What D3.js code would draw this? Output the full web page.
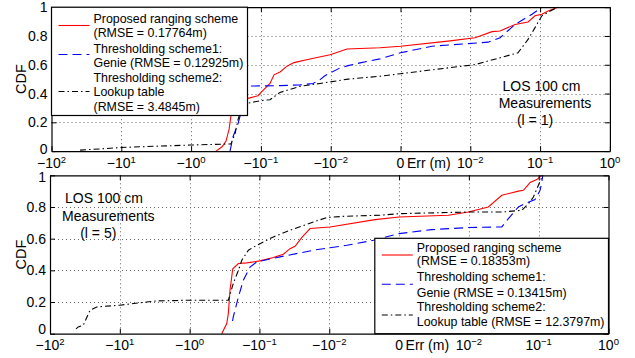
<!DOCTYPE html>
<html>
<head>
<meta charset="utf-8">
<script src="https://cdn.jsdelivr.net/npm/d3@7"></script>
<style>
  html, body { margin: 0; padding: 0; background: #fff; }
  svg { display: block; font-family: "Liberation Sans", Arial, Helvetica, sans-serif; }
</style>
</head>
<body>
<svg id="chart" width="635" height="358"></svg>
<script>
// Error axis ticks (metres), drawn on a signed-log axis
const xTickVals = [-100, -10, -1, -0.1, -0.01, 0, 0.01, 0.1, 1];
const xTickExps = ["2", "1", "0", "\u22121", "\u22122", null, "\u22122", "\u22121", "0"];
const yTickVals = [0, 0.2, 0.4, 0.6, 0.8, 1];

// Series: [ranging error (m), CDF] — LOS 100 cm, l = 1
const l1Proposed = [[-0.44,0],[-0.36,0.03],[-0.316,0.07],[-0.286,0.15],[-0.268,0.25],[-0.243,0.33],[-0.199,0.355],[-0.143,0.37],[-0.110,0.385],[-0.0964,0.415],[-0.0741,0.47],[-0.0649,0.53],[-0.0532,0.55],[-0.0423,0.59],[-0.0336,0.615],[-0.0198,0.64],[-0.0102,0.67],[-0.00583,0.71],[-0.00197,0.718],[0.001,0.729],[0.0048,0.764],[0.0117,0.788],[0.0205,0.83],[0.0267,0.835],[0.0437,0.88],[0.0672,0.897],[0.0845,0.94],[0.106,0.951],[0.130,0.974],[0.180,1]];
const l1Genie = [[-0.277,0],[-0.251,0.1],[-0.213,0.19],[-0.187,0.29],[-0.169,0.38],[-0.158,0.44],[-0.143,0.452],[-0.0532,0.455],[-0.0275,0.46],[-0.0179,0.47],[-0.0142,0.497],[-0.0121,0.524],[-0.00736,0.578],[-0.00565,0.594],[-0.0038,0.613],[-0.00197,0.641],[0.001,0.683],[0.00282,0.729],[0.018,0.757],[0.0267,0.788],[0.0437,0.88],[0.0766,0.951],[0.106,1]];
const l1Lookup = [[-39,0.007],[-20.2,0.015],[-10.1,0.025],[-2.79,0.035],[-1.04,0.042],[-0.455,0.047],[-0.268,0.05],[-0.235,0.12],[-0.213,0.217],[-0.187,0.31],[-0.163,0.33],[-0.103,0.35],[-0.0741,0.357],[-0.0532,0.408],[-0.0275,0.45],[-0.0142,0.47],[-0.00565,0.5],[-0.00197,0.52],[0.001,0.538],[0.0117,0.601],[0.0482,0.683],[0.0672,0.776],[0.0845,0.858],[0.106,0.94],[0.130,0.965],[0.180,1]];

// Series: [ranging error (m), CDF] — LOS 100 cm, l = 5
const l5Proposed = [[-0.347,0],[-0.294,0.064],[-0.279,0.127],[-0.264,0.274],[-0.241,0.41],[-0.200,0.443],[-0.152,0.447],[-0.098,0.46],[-0.0632,0.481],[-0.0455,0.502],[-0.0365,0.537],[-0.0309,0.552],[-0.0245,0.61],[-0.0188,0.664],[-0.00975,0.674],[-0.00221,0.72],[0.001,0.737],[0.00508,0.748],[0.00984,0.768],[0.019,0.80],[0.0296,0.874],[0.0512,0.90],[0.0604,0.905],[0.0676,0.93],[0.0754,0.955],[0.094,0.973],[0.1107,1]];
const l5Genie = [[-0.2427,0.08],[-0.237,0.106],[-0.200,0.232],[-0.170,0.338],[-0.1365,0.421],[-0.1094,0.453],[-0.0507,0.485],[-0.0169,0.527],[-0.00561,0.558],[-0.00233,0.59],[0.001,0.632],[0.00294,0.657],[0.00984,0.67],[0.0296,0.674],[0.0368,0.727],[0.0512,0.80],[0.0638,0.821],[0.0887,0.847],[0.1047,0.905],[0.1107,0.958],[0.1146,1]];
const l5Lookup = [[-42.4,0.03],[-39.4,0.043],[-33.3,0.054],[-26.7,0.148],[-21.4,0.169],[-9.93,0.18],[-4.12,0.20],[-2.96,0.207],[-1.10,0.211],[-0.279,0.211],[-0.237,0.317],[-0.200,0.40],[-0.179,0.464],[-0.144,0.527],[-0.1094,0.558],[-0.0632,0.611],[-0.0365,0.653],[-0.0169,0.705],[-0.01086,0.733],[-0.00628,0.741],[-0.00187,0.748],[0.001,0.758],[0.00975,0.768],[0.0296,0.768],[0.0573,0.779],[0.0754,0.832],[0.084,0.863],[0.0991,0.937],[0.1138,1]];

const seriesNames = ["Proposed ranging scheme", "Thresholding scheme1:", "Thresholding scheme2:"];
const l1Legend = [[seriesNames[0], "(RMSE = 0.17764m)"], [seriesNames[1], "Genie (RMSE = 0.12925m)"], [seriesNames[2], "Lookup table", "(RMSE = 3.4845m)"]];
const l5Legend = [[seriesNames[0], "(RMSE = 0.18353m)"], [seriesNames[1], "Genie (RMSE = 0.13415m)"], [seriesNames[2], "Lookup table (RMSE = 12.3797m)"]];
const l1Note = ["LOS 100 cm", "Measurements", "(l = 1)"];
const l5Note = ["LOS 100 cm", "Measurements", "(l = 5)"];

// line styles for the three schemes
const styles = [
  { color: "#ff0000", dash: null },
  { color: "#0000ff", dash: "9,5" },
  { color: "#000000", dash: "6,3,1.5,3" }
];

// signed log transform: |err| in [1e-3, 1e2] → decades, 0 → centre
const tf = v => v === 0 ? 0 : Math.sign(v) * Math.max(0, Math.log10(Math.abs(v)) + 3);

const svg = d3.select("#chart");
const tickFont = 14;

function drawPanel(cfg) {
  const g = svg.append("g");
  const x = d3.scaleLinear().domain([tf(-100), tf(1)]).range([cfg.left, cfg.right]);
  const y = d3.scaleLinear().domain([0, 1]).range([cfg.bottom, cfg.top]);

  // dotted grid
  const grid = g.append("g").attr("stroke", "#666").attr("stroke-width", 1)
    .attr("stroke-dasharray", "1,3").attr("fill", "none");
  xTickVals.slice(1, -1).forEach(v => {
    const px = Math.round(x(tf(v))) + 0.5;
    grid.append("line").attr("x1", px).attr("x2", px).attr("y1", cfg.top).attr("y2", cfg.bottom);
  });
  yTickVals.slice(1, -1).forEach(v => {
    const py = Math.round(y(v)) + 0.5;
    grid.append("line").attr("x1", cfg.left).attr("x2", cfg.right).attr("y1", py).attr("y2", py);
  });

  // CDF curves
  const line = d3.line().x(d => x(tf(d[0]))).y(d => y(d[1]));
  cfg.series.forEach((s, i) => {
    g.append("path").datum(s)
      .attr("d", line)
      .attr("fill", "none")
      .attr("stroke", styles[i].color)
      .attr("stroke-width", 1.1)
      .attr("stroke-dasharray", styles[i].dash);
  });

  // axes with inward ticks on all four sides
  const xt = xTickVals.map(tf);
  const axes = [
    g.append("g").attr("transform", `translate(0,${cfg.bottom})`).call(d3.axisBottom(x).tickValues(xt).tickSizeInner(-5).tickSizeOuter(0).tickFormat("")),
    g.append("g").attr("transform", `translate(0,${cfg.top})`).call(d3.axisTop(x).tickValues(xt).tickSizeInner(-5).tickSizeOuter(0).tickFormat("")),
    g.append("g").attr("transform", `translate(${cfg.left},0)`).call(d3.axisLeft(y).tickValues(yTickVals).tickSizeInner(-5).tickSizeOuter(0).tickFormat("")),
    g.append("g").attr("transform", `translate(${cfg.right},0)`).call(d3.axisRight(y).tickValues(yTickVals).tickSizeInner(-5).tickSizeOuter(0).tickFormat(""))
  ];
  axes.forEach(a => {
    a.select(".domain").attr("stroke", "#000").attr("stroke-width", 1.2);
    a.selectAll(".tick line").attr("stroke", "#000");
  });

  // y tick labels (end labels nudged inward to clear the x labels)
  const shift = d => d === 0 ? cfg.zeroShift : (d === 1 ? cfg.oneShift : 0);
  g.append("g").selectAll("text").data(yTickVals).join("text")
    .attr("x", cfg.left - 4).attr("y", d => y(d) + shift(d)).attr("dy", "0.36em")
    .attr("text-anchor", "end").attr("font-size", tickFont).attr("fill", "#000")
    .text(d => d3.format("~g")(d));

  // x tick labels with powers of ten
  const xl = g.append("g").attr("font-size", tickFont).attr("fill", "#000");
  xTickVals.forEach((v, i) => {
    const t = xl.append("text").attr("x", x(tf(v))).attr("y", cfg.labelY).attr("text-anchor", "middle");
    if (v === 0) { t.text("0"); return; }
    t.append("tspan").text(v < 0 ? "\u221210" : "10");
    t.append("tspan").attr("dy", -5).attr("font-size", 9.5).text(xTickExps[i]);
  });
  g.append("text").attr("x", x(0) + 6.5).attr("y", cfg.labelY).attr("font-size", tickFont).text("Err (m)");

  // y axis title
  g.append("text")
    .attr("transform", `translate(26,${(cfg.top + cfg.bottom) / 2}) rotate(-90)`)
    .attr("text-anchor", "middle").attr("font-size", 14.5).text("CDF");

  // annotation
  cfg.note.forEach((s, i) => {
    g.append("text").attr("x", cfg.noteX[i]).attr("y", cfg.noteY + i * 17.2)
      .attr("text-anchor", "middle").attr("font-size", 14).text(s);
  });

  // legend
  const L = cfg.legend;
  const lg = g.append("g");
  lg.append("rect").attr("x", L.x0).attr("y", L.y0).attr("width", L.x1 - L.x0).attr("height", L.y1 - L.y0)
    .attr("fill", "#fff").attr("stroke", "#000").attr("stroke-width", 1.2);
  let k = 0;
  cfg.legendText.forEach((lines, i) => {
    lg.append("line").attr("x1", L.x0 + 7).attr("x2", L.x0 + 38)
      .attr("y1", L.sampleY[i]).attr("y2", L.sampleY[i])
      .attr("stroke", styles[i].color).attr("stroke-width", 1.1)
      .attr("stroke-dasharray", styles[i].dash);
    lines.forEach(s => {
      lg.append("text").attr("x", L.x0 + 42).attr("y", L.baselines[k++])
        .attr("font-size", 12.4).attr("fill", "#000").text(s);
    });
  });
}

drawPanel({
  left: 51.5, right: 609.9, top: 7.2, bottom: 151.1, labelY: 167.5, zeroShift: -2.5, oneShift: 0,
  series: [l1Proposed, l1Genie, l1Lookup],
  note: l1Note, noteX: [541.5, 545, 535], noteY: 90.7,
  legendText: l1Legend,
  legend: { x0: 51.5, y0: 7.2, x1: 247.5, y1: 115.5,
            sampleY: [25.5, 54.5, 91.5],
            baselines: [22.7, 36.9, 52.7, 66.9, 81.7, 96.3, 110.9] }
});

drawPanel({
  left: 50, right: 608.5, top: 175.3, bottom: 333.7, labelY: 350, zeroShift: -5, oneShift: 1.5,
  series: [l5Proposed, l5Genie, l5Lookup],
  note: l5Note, noteX: [104, 108.3, 98.3], noteY: 203.3,
  legendText: l5Legend,
  legend: { x0: 374.8, y0: 238.3, x1: 608.5, y1: 333.7,
            sampleY: [255, 284.3, 315],
            baselines: [251.7, 265.3, 281.2, 296.7, 310.5, 326] }
});
</script>
</body>
</html>
